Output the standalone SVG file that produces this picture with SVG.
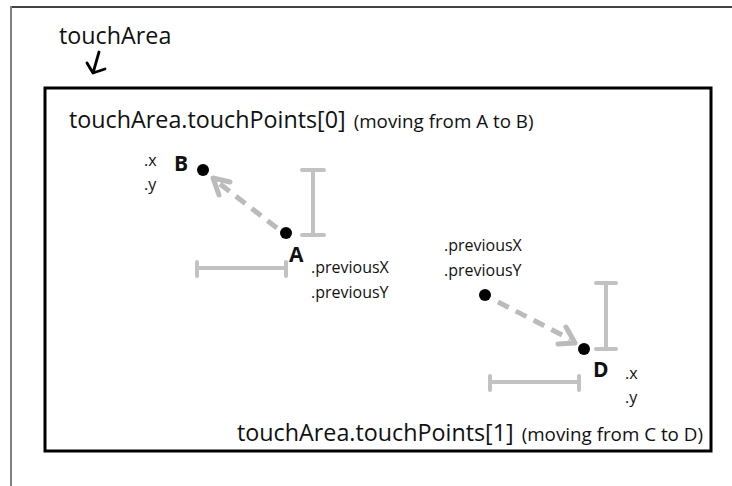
<svg xmlns="http://www.w3.org/2000/svg" width="732" height="486" viewBox="0 0 732 486">
<defs>
<style>
text{font-family:"Open Sans","Noto Sans",sans-serif;fill:#111}
.big{font-size:23.3px}
.mid{font-size:18.8px}
.sm{font-size:16px}
.lbl{font-size:21px;font-weight:bold}
.dot{fill:#000}
.beam{stroke:#c2c2c2;stroke-width:4;fill:none;stroke-linecap:round}
.move{stroke:#bbbbbb;stroke-width:5;fill:none;stroke-dasharray:12 8}
.head{stroke:#bbbbbb;stroke-width:5;fill:none;stroke-linecap:round;stroke-linejoin:round}
</style>
</defs>
<rect width="732" height="486" fill="#fff"/>
<g id="frame">
<line x1="11" y1="7" x2="732" y2="7" stroke="#444" stroke-width="2"/>
<line x1="11" y1="6" x2="11" y2="486" stroke="#808080" stroke-width="2"/>
</g>
<g id="touchArea">
<text class="big" x="59" y="44">touchArea</text>
<path d="M99 52 L93 73 M87 63 L93 73 L105 69" stroke="#000" stroke-width="2.8" fill="none" stroke-linecap="round" stroke-linejoin="round"/>
<rect x="45" y="88" width="666" height="363" fill="none" stroke="#000" stroke-width="3"/>
</g>
<g id="tp0-title">
<text x="69" y="128"><tspan class="big">touchArea.touchPoints[0]</tspan><tspan class="mid" dx="8">(moving from A to B)</tspan></text>
</g>
<g id="pointB">
<circle class="dot" cx="203" cy="170" r="6"/>
<text class="lbl" x="174" y="171">B</text>
<text class="sm" x="144" y="166">.x</text>
<text class="sm" x="144" y="190">.y</text>
</g>
<g id="pointA">
<circle class="dot" cx="286" cy="233" r="6"/>
<text class="lbl" x="289" y="262">A</text>
<text class="sm" x="311" y="273">.previousX</text>
<text class="sm" x="311" y="298">.previousY</text>
</g>
<g id="pointC">
<circle class="dot" cx="485" cy="295" r="6"/>
<text class="sm" x="444" y="251">.previousX</text>
<text class="sm" x="444" y="276">.previousY</text>
</g>
<g id="pointD">
<circle class="dot" cx="584" cy="349" r="6"/>
<text class="lbl" x="593" y="377">D</text>
<text class="sm" x="625" y="379">.x</text>
<text class="sm" x="625" y="403">.y</text>
</g>
<g id="tp1-title">
<text x="237" y="441"><tspan class="big">touchArea.touchPoints[1]</tspan><tspan class="mid" dx="8">(moving from C to D)</tspan></text>
</g>
<g id="connectors">
<line class="move" x1="277" y1="228" x2="220" y2="184"/>
<path class="head" d="M219 195 L213 178 L230 182"/>
<path class="beam" d="M313 170 V235 M302 170 H324 M302 235 H324"/>
<path class="beam" d="M197 268 H286 M197 262 V276 M286 262 V276"/>
<line class="move" x1="498" y1="302" x2="570" y2="339"/>
<path class="head" d="M566 327 L575 343 L558 344"/>
<path class="beam" d="M606 283 V349 M596 283 H616 M596 349 H616"/>
<path class="beam" d="M490 382 H579 M490 376 V390 M579 376 V390"/>
</g>
</svg>
